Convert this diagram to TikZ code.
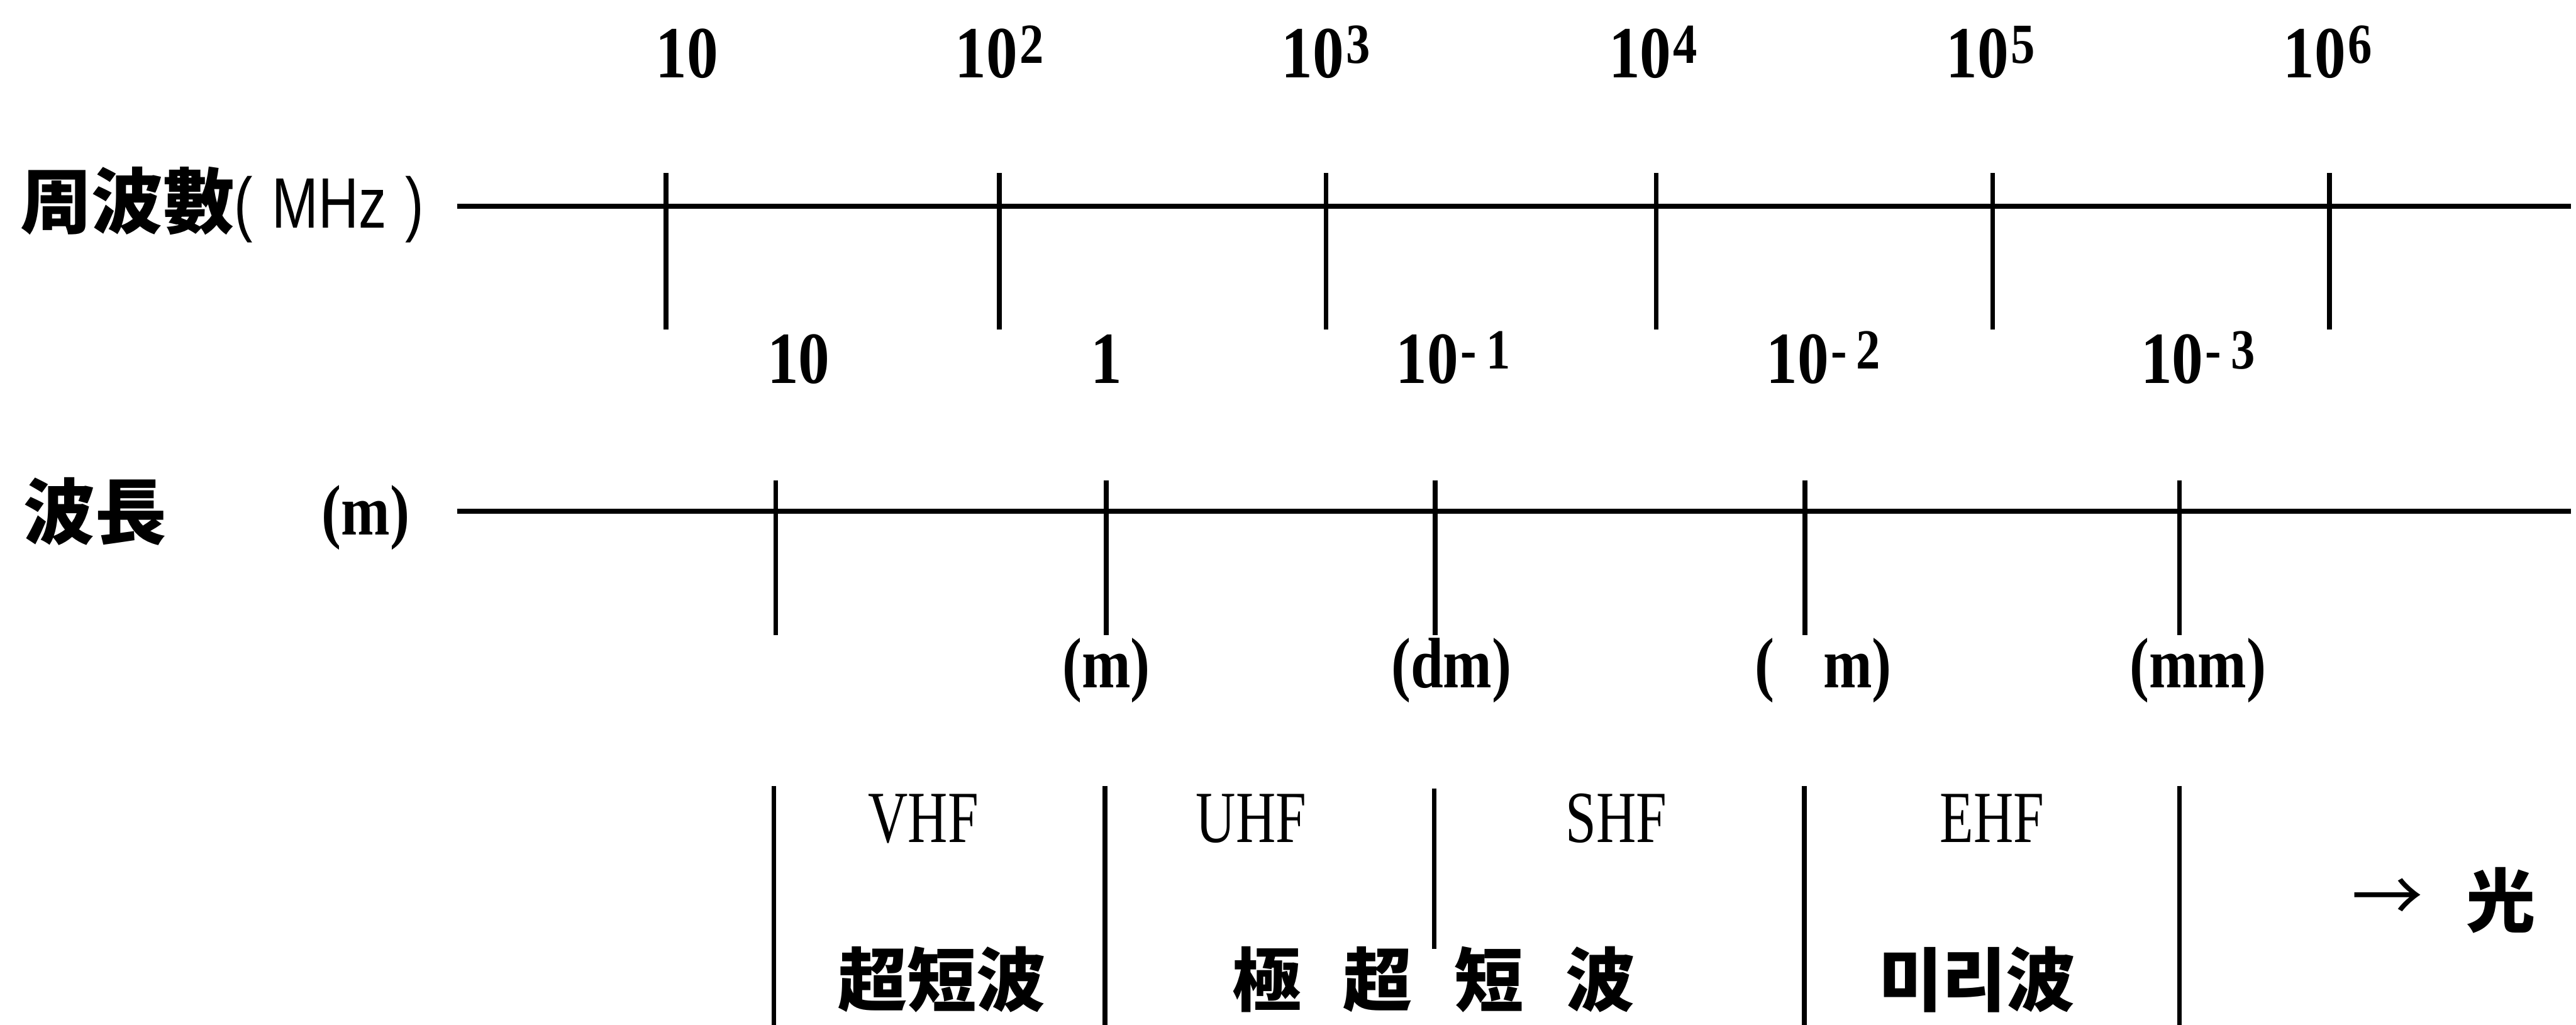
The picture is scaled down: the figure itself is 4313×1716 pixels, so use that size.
\documentclass[tikz,border=0pt]{standalone}
\usepackage{fontspec}
\newfontfamily\cjk{Noto Sans CJK KR}
\newfontfamily\numfont{Liberation Serif}[FakeStretch=0.85]
\newfontfamily\bandfont{Liberation Serif}[FakeStretch=0.75]
\newfontfamily\unitfont{Liberation Serif}[FakeStretch=0.82]
\newfontfamily\hzfont{Liberation Sans}[FakeStretch=0.78]
\newcommand\pw[1]{\hspace{1pt}\raisebox{7pt}{\fontsize{27}{30}\selectfont #1}}
\begin{document}
\begin{tikzpicture}[x=0.01cm,y=-0.01cm,line width=2.2pt,
  num/.style={font=\numfont\bfseries\fontsize{35}{40}\selectfont,inner sep=0pt,anchor=base},
  unitlab/.style={font=\unitfont\bfseries\fontsize{34}{40}\selectfont,inner sep=0pt,anchor=base},
  band/.style={font=\bandfont\fontsize{35}{40}\selectfont,inner sep=0pt,anchor=base},
  cjkb/.style={font=\cjk\bfseries\fontsize{33}{40}\selectfont,inner sep=0pt},
  axis/.style={line width=2.4pt},
  tick/.style={line width=2.2pt}]
\useasboundingbox (0,0) rectangle (4313,1716);

% ---- frequency axis
\node[cjkb,anchor=west,font=\cjk\bfseries\fontsize{34}{40}\selectfont] (ftitle) at (30,343) {周波數{\hzfont\mdseries(\hspace{9pt}MHz\hspace{9pt})}};
\coordinate (fs) at (765,345);
\coordinate (fe) at (4305,345);
\draw[axis] (fs) -- (fe);
\foreach \x/\n in {1115/a,1673/b,2220/c,2773/d,3336/e,3900/f}{
  \coordinate (ft\n) at (\x,290);
  \coordinate (fb\n) at (\x,552);
  \draw[tick] (ft\n) -- (fb\n);
}
\node[num] (f1) at (1150,130) {10};
\node[num] (f2) at (1673,130) {10\pw{2}};
\node[num] (f3) at (2220,130) {10\pw{3}};
\node[num] (f4) at (2768,130) {10\pw{4}};
\node[num] (f5) at (3333,130) {10\pw{5}};
\node[num] (f6) at (3897,130) {10\pw{6}};

% ---- wavelength axis
\node[cjkb,anchor=west,font=\cjk\bfseries\fontsize{34}{40}\selectfont] (wtitle) at (36,856) {波長};
\node[unitlab] (wunit) at (612,896) {(m)};
\coordinate (ws) at (765,856);
\coordinate (we) at (4305,856);
\draw[axis] (ws) -- (we);
\foreach \x/\n in {1299/a,1852/b,2403/c,3022/d,3649/e}{
  \coordinate (wt\n) at (\x,804);
  \coordinate (wb\n) at (\x,1063);
  \draw[tick] (wt\n) -- (wb\n);
}
\node[num] (w1) at (1337,642) {10};
\node[num] (w2) at (1852,642) {1};
\node[num] (w3) at (2433,642) {10\pw{-\,1}};
\node[num] (w4) at (3053,642) {10\pw{-\,2}};
\node[num] (w5) at (3680,642) {10\pw{-\,3}};

\node[unitlab] (u1) at (1852,1151) {(m)};
\node[unitlab] (u2) at (2430,1151) {(dm)};
\node[unitlab] (u3) at (3053,1151) {(\phantom{m}m)};
\node[unitlab] (u4) at (3680,1151) {(mm)};

% ---- bands
\foreach \x/\n in {1296/a,1850/b,3021/d,3649/e}{
  \coordinate (bt\n) at (\x,1316);
  \coordinate (bb\n) at (\x,1716);
  \draw[tick] (bt\n) -- (bb\n);
}
\coordinate (btc) at (2401,1320);
\coordinate (bbc) at (2401,1589);
\draw[tick] (btc) -- (bbc);

\node[band] (vhf) at (1546,1410) {VHF};
\node[band] (uhf) at (2095,1410) {UHF};
\node[band] (shf) at (2706,1410) {SHF};
\node[band] (ehf) at (3335,1410) {EHF};

\node[cjkb] (vhfn) at (1577,1640) {超短波};
\node[cjkb] (uhfn) at (2400,1640) {極\hspace{0.7cm}超\hspace{0.7cm}短\hspace{0.7cm}波};
\node[cjkb] (ehfn) at (3310,1640) {미리波};
\node[inner sep=0pt,font=\cjk\fontsize{34}{40}\selectfont] (arr) at (3997,1508) {→};
\node[cjkb] (light) at (4187,1508) {光};
\end{tikzpicture}
\end{document}
